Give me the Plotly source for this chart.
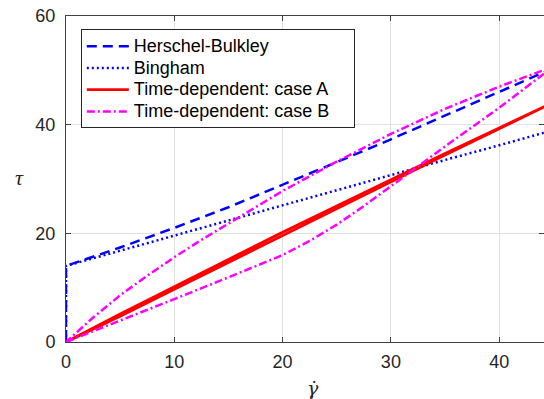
import plotly.graph_objects as go

# ---- data ----
hb_gamma = [0, 0, 5, 10, 15, 20, 25, 30, 35, 40, 45]
hb_tau = [0, 14, 17.4, 21.0, 24.8, 28.9, 33.1, 37.3, 41.7, 46.0, 50.4]

bing_gamma = [0, 0, 5, 10, 15, 20, 25, 30, 35, 40, 45]
bing_tau = [0, 14, 16.8, 19.6, 22.3, 25.1, 27.9, 30.7, 33.5, 36.2, 39.0]

# case A: loading branch then unloading branch
a_gamma = [0, 5, 10, 15, 20, 25, 30, 35, 40, 45, 40, 35, 30, 25, 20, 15, 10, 5, 0]
a_tau = [0, 4.75, 9.7, 14.65, 19.65, 24.6, 29.5, 34.4, 39.25, 44.1,
         39.4, 34.7, 29.9, 25.05, 20.2, 15.2, 10.2, 5.15, 0]

# case B: loading branch then unloading branch
b_gamma = [0, 5, 10, 15, 20, 22.5, 25, 27.5, 30, 32.5, 35, 40, 45,
           40, 35, 30, 25, 20, 15, 12.5, 10, 7.5, 5, 2.5, 0]
b_tau = [0, 3.9, 7.9, 11.9, 16.0, 18.6, 21.6, 25.0, 28.7, 32.4, 36.0, 43.1, 50.7,
         47.0, 42.9, 38.3, 33.2, 27.8, 21.9, 18.8, 15.6, 12.2, 8.6, 4.5, 0]

names = ["Herschel-Bulkley", "Bingham", "Time-dependent: case A", "Time-dependent: case B"]

x_ticks = [0, 10, 20, 30, 40]
y_ticks = [0, 20, 40, 60]


def leg(s, pad=""):
    return '<span style="font-size:18px">' + s + pad + '</span>'


fig = go.Figure()
fig.add_trace(go.Scatter(x=hb_gamma, y=hb_tau, mode="lines", name=leg(names[0]),
                         line=dict(color="#0000ff", width=2.5, dash="10px,6px")))
fig.add_trace(go.Scatter(x=bing_gamma, y=bing_tau, mode="lines", name=leg(names[1]),
                         line=dict(color="#0000ff", width=2.5, dash="2px,3px")))
fig.add_trace(go.Scatter(x=a_gamma, y=a_tau, mode="lines",
                         name=leg(names[2], "&nbsp;&nbsp;&nbsp;&nbsp;"),
                         line=dict(color="#ff0000", width=2.8)))
fig.add_trace(go.Scatter(x=b_gamma, y=b_tau, mode="lines", name=leg(names[3]),
                         line=dict(color="#ff00ff", width=2.5, dash="8px,3px,2px,3px")))

axis_common = dict(
    showline=True, linecolor="#404040", linewidth=1, mirror="ticks",
    ticks="inside", ticklen=5, tickcolor="#404040",
    showgrid=True, gridcolor="#e0e0e0", gridwidth=1,
    zeroline=False, layer="below traces",
    tickfont=dict(family="Liberation Sans, Arial", size=18, color="#262626"),
)

fig.update_xaxes(range=[0, 44.14], tickvals=x_ticks, ticklabelstandoff=3, **axis_common)
fig.update_yaxes(range=[0, 60], tickvals=y_ticks, ticklabelstandoff=6, **axis_common)

fig.update_layout(
    width=544, height=399,
    margin=dict(l=66, r=0, t=16, b=57),
    plot_bgcolor="white", paper_bgcolor="white",
    showlegend=True,
    legend=dict(
        x=0.031, y=0.959, xanchor="left", yanchor="top",
        bgcolor="white", bordercolor="#262626", borderwidth=1,
        font=dict(family="Liberation Sans, Arial", size=14.4, color="#000000"),
        tracegroupgap=0, itemwidth=42,
    ),
    annotations=[
        dict(text="<i>τ</i>", xref="paper", yref="paper", x=-0.0983, y=0.506,
             showarrow=False, xanchor="center", yanchor="middle",
             font=dict(family="Liberation Serif", size=22, color="#262626")),
        dict(text="<i>γ̇</i>", xref="paper", yref="paper", x=0.517, y=-0.181,
             showarrow=False, xanchor="center", yanchor="bottom",
             font=dict(family="DejaVu Serif", size=19, color="#262626")),
    ],
)

fig.write_html("out.html")
